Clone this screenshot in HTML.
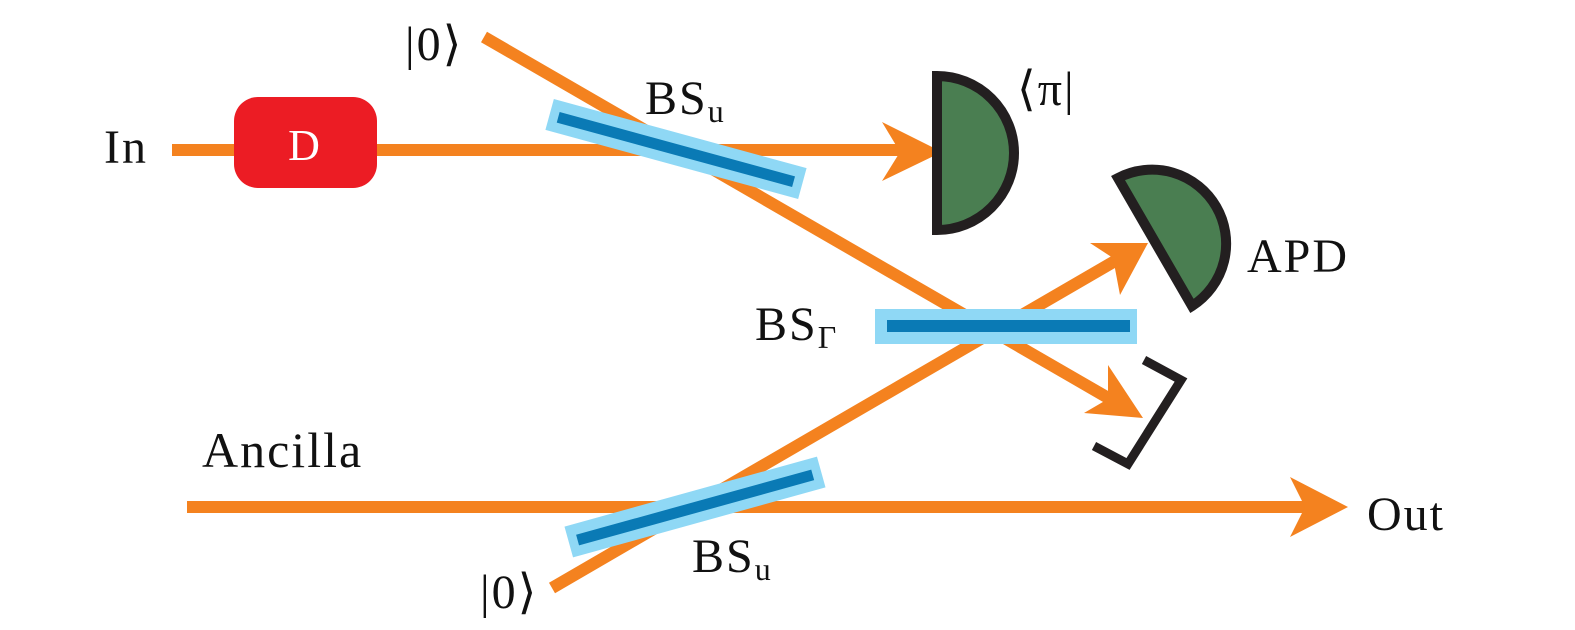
<!DOCTYPE html>
<html><head><meta charset="utf-8"><style>
html,body{margin:0;padding:0;background:#fff;}
svg{display:block;}
text{font-family:"Liberation Serif","DejaVu Serif",serif;fill:#111;letter-spacing:2px;}
</style></head><body>
<svg width="1575" height="630" viewBox="0 0 1575 630" xmlns="http://www.w3.org/2000/svg">
<g stroke="#F4821F" stroke-width="12" fill="none">
<line x1="172" y1="150" x2="900" y2="150"/>
<line x1="484" y1="37" x2="1110" y2="399"/>
<line x1="552" y1="588" x2="1115" y2="261"/>
<line x1="187" y1="507" x2="1310" y2="507"/>
</g>
<g fill="#F4821F">
<polygon points="882,122 942,152 882,181 900,152"/>
<polygon points="1290,477 1348,507 1290,537 1305,507"/>
<polygon points="1143,418 1084,413 1108,399 1108,365"/>
<polygon points="1148,243 1090,243 1113,258 1120,295"/>
</g>
<rect x="234" y="97" width="143" height="91" rx="24" fill="#EC1C24"/>
<text x="305" y="160" font-size="44" text-anchor="middle" style="fill:#fff">D</text>
<g transform="translate(676,149) rotate(15.3)">
<rect x="-131" y="-16" width="262" height="32" fill="#8FD8F5"/>
<rect x="-122" y="-5" width="244" height="11" fill="#0A7AB5"/>
</g>
<g transform="translate(695,507) rotate(-15.5)">
<rect x="-131" y="-16" width="262" height="32" fill="#8FD8F5"/>
<rect x="-122" y="-5" width="244" height="11" fill="#0A7AB5"/>
</g>
<rect x="875" y="309" width="262" height="35" fill="#8FD8F5"/>
<rect x="887" y="320" width="243" height="12" fill="#0A7AB5"/>
<path d="M937 76 A77 77 0 0 1 937 230 Z" fill="#4A7E51" stroke="#231F20" stroke-width="10"/>
<path d="M1118 178 A74 74 0 0 1 1192 306 Z" fill="#4A7E51" stroke="#231F20" stroke-width="10"/>
<polyline points="1144,360 1181,380 1128,464 1094,446" fill="none" stroke="#231F20" stroke-width="9"/>
<text x="104" y="163" font-size="48">In</text>
<text x="405" y="60" font-size="48">|0⟩</text>
<text x="645" y="114" font-size="48">BS<tspan font-size="32" dy="8">u</tspan></text>
<text x="1017" y="105" font-size="48">⟨π|</text>
<text x="1247" y="272" font-size="48">APD</text>
<text x="755" y="340" font-size="48">BS<tspan font-size="32" dy="8">Γ</tspan></text>
<text x="202" y="467" font-size="50">Ancilla</text>
<text x="1367" y="530" font-size="48">Out</text>
<text x="480" y="608" font-size="48">|0⟩</text>
<text x="692" y="572" font-size="48">BS<tspan font-size="32" dy="8">u</tspan></text>
</svg>
</body></html>
